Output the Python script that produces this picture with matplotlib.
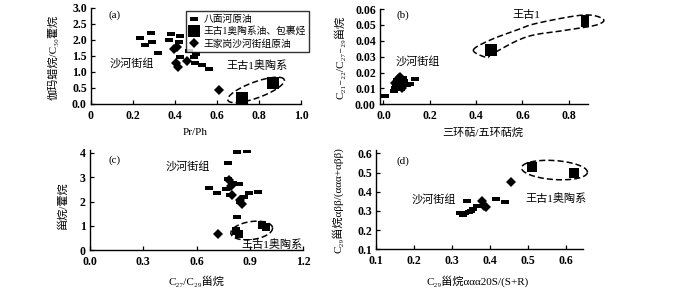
"""
Four-panel geochemical cross-plot: Baimianhe oils, Wanggu-1 Ordovician oils
and Wangjiagang Shahejie oils.
"""

import numpy as np
import matplotlib
matplotlib.use("Agg")
import matplotlib.pyplot as plt

plt.rcParams["font.family"] = ["Liberation Serif", "Noto Sans CJK SC", "DejaVu Sans"]
plt.rcParams["font.size"] = 8.5

# ── legend labels ──
labels = ["八面河原油", "王古1奥陶系油、包裹烃", "王家岗沙河街组原油"]

# ── (a) Pr/Ph vs gammacerane/C30 hopane ──
a_bmh_x = [0.235, 0.285, 0.255, 0.29, 0.32, 0.37, 0.38, 0.425, 0.42, 0.425, 0.465, 0.49, 0.50, 0.495, 0.53, 0.56]
a_bmh_y = [2.07, 2.21, 1.83, 1.93, 1.60, 2.00, 2.19, 2.13, 1.93, 1.47, 1.66, 1.48, 1.57, 1.27, 1.23, 1.09]
a_wg_x = [0.72, 0.868]
a_wg_y = [0.20, 0.67]
a_wjg_x = [0.395, 0.41, 0.405, 0.415, 0.455, 0.61]
a_wjg_y = [1.72, 1.78, 1.28, 1.15, 1.35, 0.45]
a_xticks = [0, 0.2, 0.4, 0.6, 0.8, 1.0]
a_xticklabels = ["0", "0.2", "0.4", "0.6", "0.8", "1.0"]
a_yticks = [0, 0.5, 1.0, 1.5, 2.0, 2.5, 3.0]
a_yticklabels = ["0.0", "0.5", "1.0", "1.5", "2.0", "2.5", "3.0"]

# ── (b) tricyclic/pentacyclic vs C21-22/C27-29 steranes ──
b_bmh_x = [0.006, 0.05, 0.07, 0.085, 0.06, 0.09, 0.10, 0.115, 0.136, 0.055, 0.075, 0.045]
b_bmh_y = [0.005, 0.0105, 0.013, 0.0165, 0.0155, 0.0145, 0.012, 0.0125, 0.016, 0.012, 0.0095, 0.0085]
b_wg_x = [0.464, 0.878]
b_wg_y = [0.0345, 0.0526]
b_wjg_x = [0.06, 0.075, 0.065, 0.08, 0.05, 0.07]
b_wjg_y = [0.011, 0.014, 0.0165, 0.010, 0.0135, 0.0175]
b_xticks = [0.0, 0.2, 0.4, 0.6, 0.8]
b_xticklabels = ["0.0", "0.2", "0.4", "0.6", "0.8"]
b_yticks = [0.00, 0.01, 0.02, 0.03, 0.04, 0.05, 0.06]
b_yticklabels = ["0.00", "0.01", "0.02", "0.03", "0.04", "0.05", "0.06"]
# outline around Wanggu-1 samples
b_ring_x = [0.388, 0.460, 0.575, 0.662, 0.863, 0.948, 0.921, 0.791, 0.619, 0.473, 0.446]
b_ring_y = [0.0341, 0.0404, 0.0467, 0.0510, 0.0562, 0.0537, 0.0500, 0.0467, 0.0425, 0.0320, 0.0295]

# ── (c) C27/C29 steranes vs steranes/hopanes ──
c_bmh_x = [0.826, 0.883, 0.776, 0.672, 0.717, 0.807, 0.766, 0.841, 0.789, 0.868, 0.897, 0.948, 0.845, 0.826, 0.779]
c_bmh_y = [4.04, 4.07, 3.59, 2.57, 2.36, 2.74, 2.50, 2.70, 2.27, 2.20, 2.36, 2.40, 1.99, 1.38, 2.91]
c_wg_x = [0.82, 0.84, 0.97, 0.99]
c_wg_y = [0.80, 0.65, 1.05, 0.95]
c_wjg_x = [0.785, 0.794, 0.798, 0.845, 0.854, 0.723]
c_wjg_y = [2.88, 2.64, 2.27, 2.06, 1.88, 0.66]
c_xticks = [0.0, 0.3, 0.6, 0.9, 1.2]
c_xticklabels = ["0.0", "0.3", "0.6", "0.9", "1.2"]
c_yticks = [0, 1, 2, 3, 4]
c_yticklabels = ["0", "1", "2", "3", "4"]

# ── (d) C29 ααα20S/(S+R) vs C29 αββ/(ααα+αββ) ──
d_bmh_x = [0.32, 0.33, 0.345, 0.355, 0.365, 0.34, 0.415, 0.44, 0.35, 0.335]
d_bmh_y = [0.288, 0.280, 0.296, 0.310, 0.325, 0.352, 0.362, 0.348, 0.302, 0.290]
d_wg_x = [0.512, 0.621]
d_wg_y = [0.527, 0.500]
d_wjg_x = [0.378, 0.39, 0.385, 0.455]
d_wjg_y = [0.350, 0.318, 0.325, 0.452]
d_ticks = [0.1, 0.2, 0.3, 0.4, 0.5, 0.6]
d_ticklabels = ["0.1", "0.2", "0.3", "0.4", "0.5", "0.6"]

DPI = 100
W, H = 700, 295

# small horizontal bar marker for Baimianhe oils
DASH = [(-1, -0.45), (1, -0.45), (1, 0.45), (-1, 0.45), (-1, -0.45)]


def px_rect(left, right, bottom, top):
    """Axes rectangle from pixel edges (top-left image origin)."""
    return [left / W, 1 - bottom / H, (right - left) / W, (bottom - top) / H]


def style_axes(ax):
    for s in ("top", "right"):
        ax.spines[s].set_visible(False)
    for s in ("left", "bottom"):
        ax.spines[s].set_linewidth(1.0)
    ax.tick_params(direction="in", length=3, width=0.9, labelsize=8.5)
    ax.tick_params(axis="x", pad=4)
    ax.tick_params(axis="y", pad=3)
    for lab in ax.get_xticklabels() + ax.get_yticklabels():
        lab.set_fontweight("bold")


def draw_points(ax, bx, by, wx, wy, jx, jy, sq=8, dm=5, ds=5.5):
    ax.plot(bx, by, ls="none", marker=DASH, ms=ds, color="black", mew=0, label=labels[0])
    ax.plot(wx, wy, ls="none", marker="s", ms=sq, color="black", mew=0, label=labels[1])
    ax.plot(jx, jy, ls="none", marker="D", ms=dm, color="black", mew=0, label=labels[2])


def dashed_ellipse(ax, cx, cy, a_px, b_px, ang):
    """Dashed ellipse drawn in screen space around a data point."""
    t = np.linspace(0, 2 * np.pi, 200)
    c = ax.transData.transform((cx, cy))
    r = np.deg2rad(ang)
    ex = a_px * np.cos(t)
    ey = b_px * np.sin(t)
    pts = np.column_stack([c[0] + ex * np.cos(r) - ey * np.sin(r),
                           c[1] + ex * np.sin(r) + ey * np.cos(r)])
    d = ax.transData.inverted().transform(pts)
    ax.plot(d[:, 0], d[:, 1], color="black", lw=1.1, ls=(0, (4, 2)), clip_on=False)


def dashed_ring(ax, xs, ys, n=24):
    """Closed Catmull-Rom curve through outline points (screen space)."""
    P = ax.transData.transform(np.column_stack([xs, ys]))
    m = len(P)
    out = []
    for i in range(m):
        p0, p1, p2, p3 = P[i - 1], P[i], P[(i + 1) % m], P[(i + 2) % m]
        for t in np.linspace(0, 1, n, endpoint=False):
            out.append(0.5 * (2 * p1 + (-p0 + p2) * t
                              + (2 * p0 - 5 * p1 + 4 * p2 - p3) * t * t
                              + (-p0 + 3 * p1 - 3 * p2 + p3) * t ** 3))
    out.append(out[0])
    d = ax.transData.inverted().transform(np.array(out))
    ax.plot(d[:, 0], d[:, 1], color="black", lw=1.1, ls=(0, (4, 2)), clip_on=False)


fig = plt.figure(figsize=(W / DPI, H / DPI), dpi=DPI)
TXT = dict(ha="center", va="center", fontsize=8)

# ── panel (a) ──
ax = fig.add_axes(px_rect(91, 301, 104, 8))
draw_points(ax, a_bmh_x, a_bmh_y, a_wg_x, a_wg_y, a_wjg_x, a_wjg_y)
ax.set_xlim(0, 1.0)
ax.set_ylim(0, 3.0)
ax.set_xticks(a_xticks, a_xticklabels)
ax.set_yticks(a_yticks, a_yticklabels)
style_axes(ax)
dashed_ellipse(ax, 0.786, 0.44, 30, 8, 20)
ax.text(0.114, 2.78, "(a)", **TXT)
ax.text(0.195, 1.28, "沙河街组", **TXT)
ax.text(0.79, 1.19, "王古1奥陶系", **TXT)
leg = ax.legend(loc="upper left", bbox_to_anchor=(0.45, 0.965), fontsize=7,
                frameon=True, fancybox=False, edgecolor="black", handlelength=1.0,
                handletextpad=0.5, borderpad=0.35, labelspacing=0.25, borderaxespad=0)
leg.get_frame().set_linewidth(1.0)
fig.text(53 / W, 1 - 57 / H, "伽玛蜡烷/C₃₀藿烷", rotation=90, **TXT)
fig.text(195 / W, 1 - 132 / H, "Pr/Ph", **TXT)

# ── panel (b) ──
ax = fig.add_axes(px_rect(380, 588, 104.3, 9))
draw_points(ax, b_bmh_x, b_bmh_y, b_wg_x, b_wg_y, b_wjg_x, b_wjg_y, sq=8, dm=5)
ax.set_xlim(-0.015, 0.883)
ax.set_ylim(0, 0.06)
ax.set_xticks(b_xticks, b_xticklabels)
ax.set_yticks(b_yticks, b_yticklabels)
style_axes(ax)
dashed_ring(ax, b_ring_x, b_ring_y)
ax.text(0.084, 0.0558, "(b)", **TXT)
ax.text(0.619, 0.0562, "王古1", **TXT)
ax.text(0.149, 0.0268, "沙河街组", **TXT)
fig.text(340 / W, 1 - 57 / H, "C₂₁₋₂₂/C₂₇₋₂₉甾烷", rotation=90, **TXT)
fig.text(483 / W, 1 - 132.5 / H, "三环萜/五环萜烷", **TXT)

# ── panel (c) ──
ax = fig.add_axes(px_rect(90, 303, 250.3, 150.3))
draw_points(ax, c_bmh_x, c_bmh_y, c_wg_x, c_wg_y, c_wjg_x, c_wjg_y, sq=5.5, dm=5)
ax.set_xlim(0, 1.2)
ax.set_ylim(0, 4.1)
ax.set_xticks(c_xticks, c_xticklabels)
ax.set_yticks(c_yticks, c_yticklabels)
style_axes(ax)
dashed_ellipse(ax, 0.911, 0.81, 21, 9, 8)
ax.text(0.141, 3.70, "(c)", **TXT)
ax.text(0.552, 3.43, "沙河街组", **TXT)
ax.text(1.028, 0.22, "王古1奥陶系", clip_on=False, **TXT)
fig.text(63 / W, 1 - 205 / H, "甾烷/藿烷", rotation=90, **TXT)
fig.text(196 / W, 1 - 281 / H, "C₂₇/C₂₉甾烷", **TXT)

# ── panel (d) ──
ax = fig.add_axes(px_rect(376, 583, 249.3, 150.5))
draw_points(ax, d_bmh_x, d_bmh_y, d_wg_x, d_wg_y, d_wjg_x, d_wjg_y, sq=7, dm=5)
ax.set_xlim(0.1, 0.645)
ax.set_ylim(0.1, 0.615)
ax.set_xticks(d_ticks, d_ticklabels)
ax.set_yticks(d_ticks, d_ticklabels)
style_axes(ax)
dashed_ellipse(ax, 0.57, 0.513, 33, 9.5, -4)
ax.text(0.172, 0.56, "(d)", **TXT)
ax.text(0.251, 0.362, "沙河街组", **TXT)
ax.text(0.575, 0.362, "王古1奥陶系", **TXT)
fig.text(338 / W, 1 - 200 / H, "C₂₉甾烷αββ/(ααα+αββ)", rotation=90, **TXT)
fig.text(478 / W, 1 - 281 / H, "C₂₉甾烷ααα20S/(S+R)", **TXT)

fig.savefig("out.png", dpi=DPI)
plt.close(fig)
